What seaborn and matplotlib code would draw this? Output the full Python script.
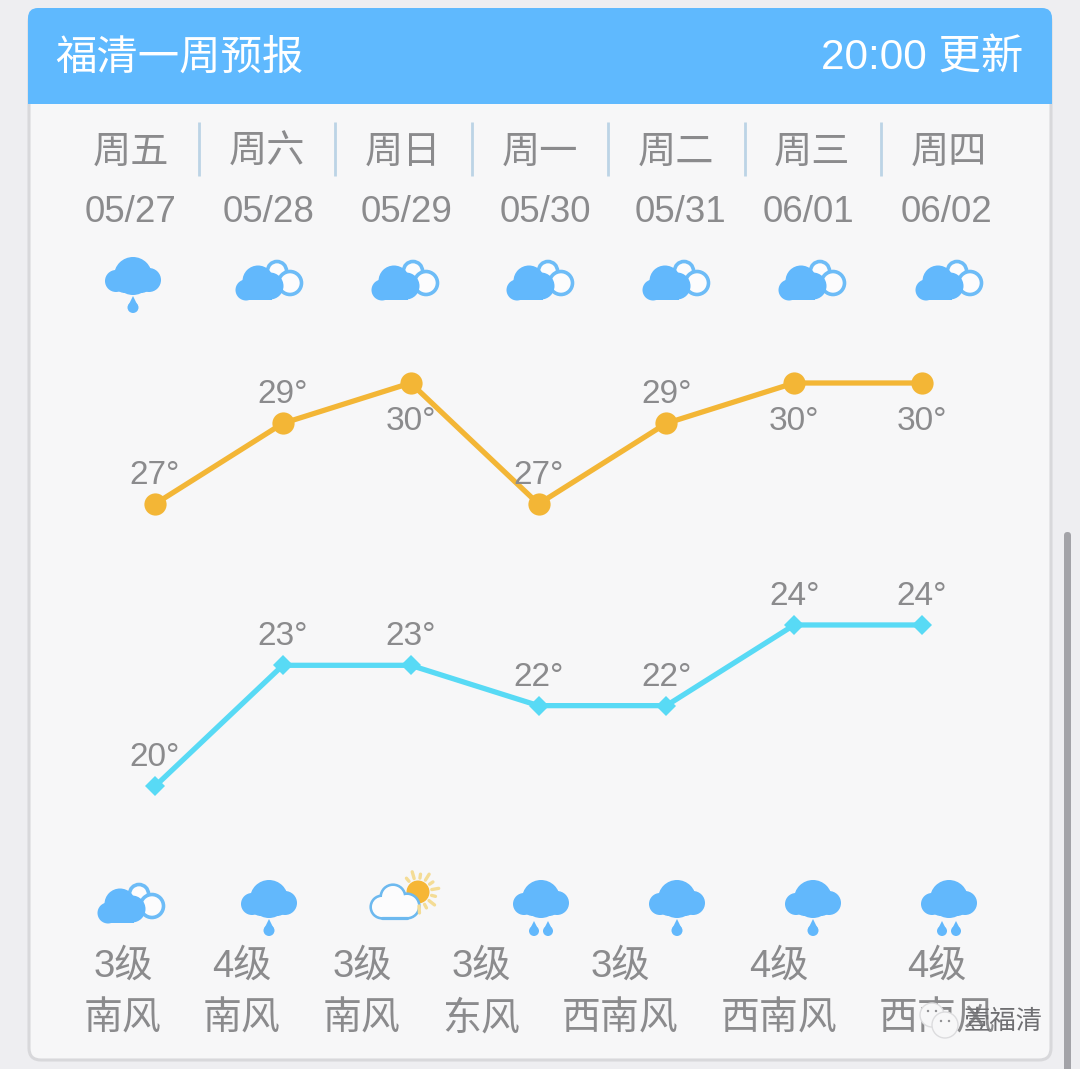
import matplotlib
matplotlib.use("Agg")
import matplotlib.pyplot as plt
import seaborn as sns
import numpy as np
import pandas as pd
from matplotlib.patches import Circle, FancyBboxPatch, Rectangle, Polygon

sns.set_theme(style="white")
FONT = ['Liberation Sans', 'Noto Sans CJK SC', 'DejaVu Sans']
CJK = ['Noto Sans CJK SC', 'DejaVu Sans']
plt.rcParams['font.family'] = FONT

# ---- data ----
title = "福清一周预报"
updated = "20:00 更新"
weekdays = ["周五", "周六", "周日", "周一", "周二", "周三", "周四"]
dates = ["05/27", "05/28", "05/29", "05/30", "05/31", "06/01", "06/02"]
high_temps = [27, 29, 30, 27, 29, 30, 30]
low_temps = [20, 23, 23, 22, 22, 24, 24]
high_label_above = [True, True, False, True, True, False, False]
day_icons = ["rain1", "cloudy", "cloudy", "cloudy", "cloudy", "cloudy", "cloudy"]
night_icons = ["cloudy", "rain1", "sunny", "rain2", "rain1", "rain1", "rain2"]
wind_levels = ["3级", "4级", "3级", "3级", "3级", "4级", "4级"]
wind_dirs = ["南风", "南风", "南风", "东风", "西南风", "西南风", "西南风"]

# ---- style / layout (pixels) ----
W, H = 1080, 1069
BG = "#eeeef1"; CARD = "#f7f7f8"; BORDER = "#d8d8db"; HEAD = "#5fb9fe"
GREY = "#8b8b8d"; BLUE = "#62b8fc"; HIGH = "#f3b636"; LOW = "#58daf5"
day_x = [131, 267, 403, 540, 676, 812, 949]
date_x = [131, 269, 407, 545, 680, 808, 946]
sep_x = [199, 335, 472, 608, 745, 881]
top_icon_x = [133, 269, 405, 540, 676, 812, 949]
bot_icon_x = [131, 269, 405, 541, 677, 813, 949]
wind_x = [123, 242, 362, 481, 620, 779, 937]

fig = plt.figure(figsize=(W / 100, H / 100), dpi=100, facecolor=BG)
bg = fig.add_axes([0, 0, 1, 1])
bg.set_xlim(0, W); bg.set_ylim(H, 0); bg.axis("off")

# card and header
bg.add_patch(FancyBboxPatch((29, 10), 1022, 1050, boxstyle="round,pad=0,rounding_size=12",
                            fc=CARD, ec=BORDER, lw=2.2))
bg.add_patch(FancyBboxPatch((28, 8), 1024, 40, boxstyle="round,pad=0,rounding_size=10",
                            fc=HEAD, ec="none"))
bg.add_patch(Rectangle((28, 22), 1024, 82, fc=HEAD, ec="none"))
# scroll bar
bg.add_patch(FancyBboxPatch((1064, 532), 7, 560, boxstyle="round,pad=0,rounding_size=3.5",
                            fc="#a3a3a8", ec="none"))

bg.text(55, 58, title, color="white", fontsize=29.8, ha="left", va="center", family=CJK)
bg.text(1023, 58, updated, color="white", fontsize=30.5, ha="right", va="center")

for x, d in zip(day_x, weekdays):
    bg.text(x, 152, d, color=GREY, fontsize=27.5, ha="center", va="center", family=CJK)
for x, d in zip(date_x, dates):
    bg.text(x, 212, d, color=GREY, fontsize=26.5, ha="center", va="center")
for x in sep_x:
    bg.plot([x, x], [122, 176], color="#bcd4e6", lw=2, solid_capstyle="butt")


def drop(cx, top, h=17, w=11, c=BLUE):
    bg.add_patch(Polygon([(cx, top), (cx - w * .42, top + h * .55), (cx + w * .42, top + h * .55)],
                         fc=c, ec="none"))
    bg.add_patch(Circle((cx, top + h - w / 2), w / 2, fc=c, ec="none"))


def rain_cloud(cx, cy, drops):
    for dx, dy, r in [(0, -1, 19), (-17, 4, 11), (16, 3, 12), (-8, 4, 12), (8, 4, 12)]:
        bg.add_patch(Circle((cx + dx, cy + dy), r, fc=BLUE, ec="none"))
    if drops == 1:
        drop(cx, cy + 19)
    else:
        drop(cx - 7, cy + 21, h=15, w=10); drop(cx + 7, cy + 21, h=15, w=10)


def cloudy(cx, cy):
    for dx, dy, r in [(8, -7, 9.5), (21, 5, 11.5)]:
        bg.add_patch(Circle((cx + dx, cy + dy), r, fc="#fcfcfd", ec="#6dbcf7", lw=2.6))
    for dx, dy, r in [(-11, 3, 15.5), (-23, 12, 10.5), (1, 8, 13.5), (-12, 9, 12)]:
        bg.add_patch(Circle((cx + dx, cy + dy), r, fc=BLUE, ec="none"))
    bg.add_patch(Rectangle((cx - 23, cy + 10), 26, 12, fc=BLUE, ec="none"))


def sunny(cx, cy):
    sx, sy = cx + 13, cy - 10
    for n, a in enumerate(np.arange(-130, 110, 24)):
        t = np.radians(a)
        r2 = 21 if n % 2 else 18
        bg.plot([sx + 14 * np.cos(t), sx + r2 * np.cos(t)], [sy + 14 * np.sin(t), sy + r2 * np.sin(t)],
                color="#f4dc95", lw=2.4, solid_capstyle="round")
    bg.add_patch(Circle((sx, sy), 11.5, fc="#f6b636", ec="none"))
    lumps = [(-12, -5, 12), (-23, 5, 11), (2, 4, 12)]
    for dx, dy, r in lumps:
        bg.add_patch(Circle((cx + dx, cy + dy), r, fc=CARD, ec="#6db9ef", lw=2.3))
    bg.plot([cx - 23, cx + 2], [cy + 16, cy + 16], color="#6db9ef", lw=2.3)
    for dx, dy, r in lumps:
        bg.add_patch(Circle((cx + dx, cy + dy), r - 1, fc="#fcfcfd", ec="none"))
    bg.add_patch(Rectangle((cx - 23, cy + 4), 25, 11, fc="#fcfcfd", ec="none"))


def icon(kind, cx, cy):
    if kind == "rain1":
        rain_cloud(cx, cy, 1)
    elif kind == "rain2":
        rain_cloud(cx, cy, 2)
    elif kind == "cloudy":
        cloudy(cx, cy)
    else:
        sunny(cx, cy)


for x, k in zip(top_icon_x, day_icons):
    icon(k, x, 278 if k != "rain1" else 277)
for x, k in zip(bot_icon_x, night_icons):
    icon(k, x, 901 if k == "cloudy" else 900 if k != "sunny" else 902)

for x, a, b in zip(wind_x, wind_levels, wind_dirs):
    bg.text(x, 967, a, color=GREY, fontsize=27.5, ha="center", va="center")
    bg.text(x, 1019, b, color=GREY, fontsize=28, ha="center", va="center", family=CJK)

# ---- temperature chart: 0..6 -> 155..922 px, 30deg -> 383 px, 40.33 px/deg ----
L, R, T, B = 28, 1052, 340, 840
ax = fig.add_axes([L / W, 1 - B / H, (R - L) / W, (B - T) / H], facecolor="none")
ppx = (922 - 155) / 6
ax.set_xlim((L - 155) / ppx, (R - 155) / ppx)
ax.set_ylim(30 - (B - 383) / 40.33, 30 + (383 - T) / 40.33)
ax.axis("off")

df = pd.DataFrame({"i": range(7), "high": high_temps, "low": low_temps})
sns.lineplot(data=df, x="i", y="high", ax=ax, color=HIGH, lw=3.8, marker="o", markersize=16,
             markeredgewidth=0, legend=False)
sns.lineplot(data=df, x="i", y="low", ax=ax, color=LOW, lw=3.8, marker="D", markersize=10.5,
             markeredgewidth=0, legend=False)

for i, (t, above) in enumerate(zip(high_temps, high_label_above)):
    ax.annotate(f"{t}°", (i, t), xytext=(0, 20.5 if above else -28), textcoords="offset points",
                color=GREY, fontsize=24, ha="center", va="center")
for i, t in enumerate(low_temps):
    ax.annotate(f"{t}°", (i, t), xytext=(0, 20.5), textcoords="offset points",
                color=GREY, fontsize=24, ha="center", va="center")

# watermark
ov = fig.add_axes([0, 0, 1, 1], facecolor="none")
ov.set_xlim(0, W); ov.set_ylim(H, 0); ov.axis("off")
for cx, cy, r in [(932, 1015, 12), (945, 1025, 13)]:
    ov.add_patch(Circle((cx, cy), r, fc="#f7f7f8", ec="#dcdcde", lw=1))
    for d in (-4, 4):
        ov.add_patch(Circle((cx + d, cy - 4), 1.2, fc="#8f8f92", ec="none"))
ov.text(1043, 1021, "壹福清", color="#6f6f72", fontsize=19, ha="right", va="center", family=CJK)

fig.savefig("out.png", dpi=100, facecolor=BG)
